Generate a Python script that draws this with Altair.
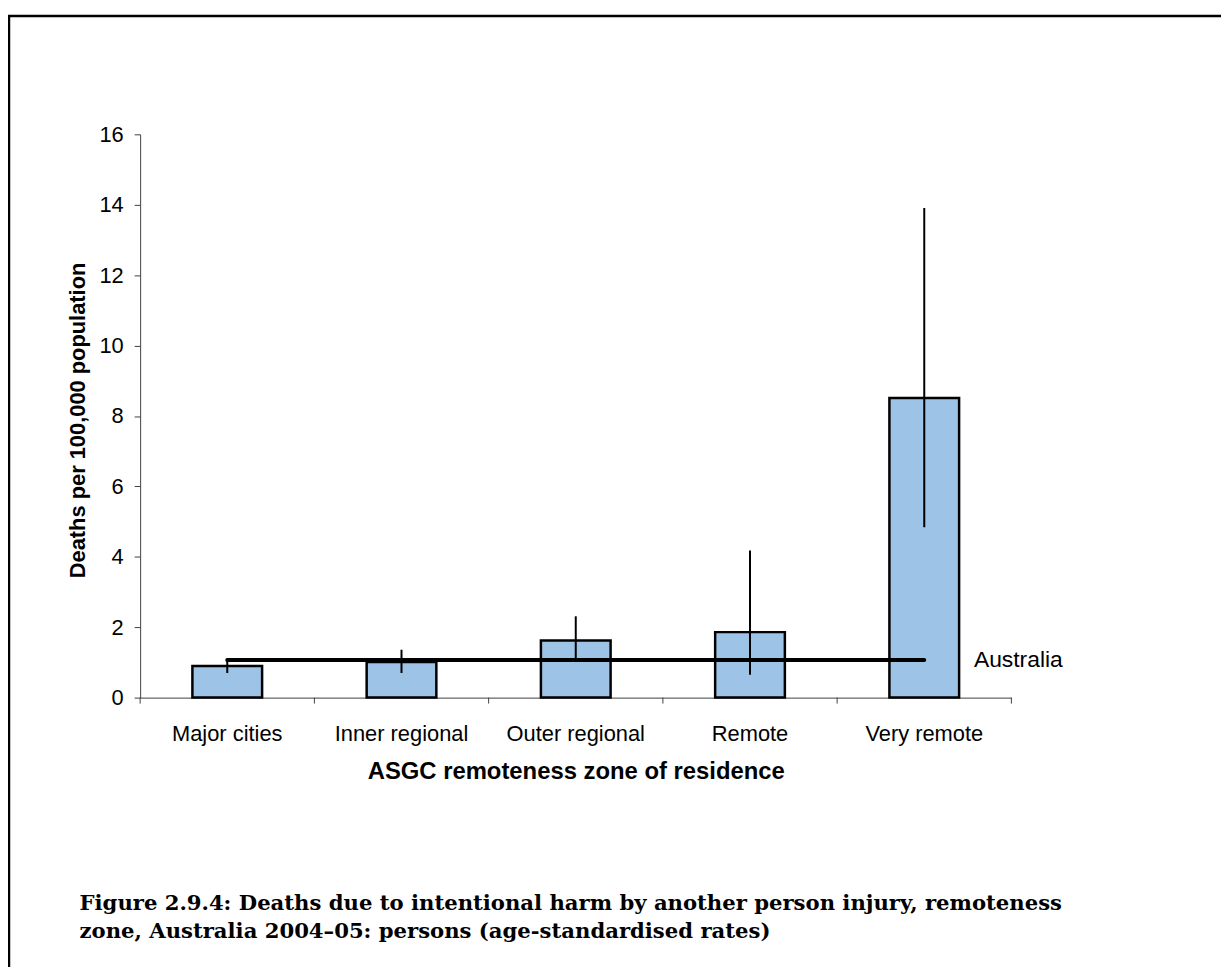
import altair as alt
import pandas as pd

categories = ["Major cities", "Inner regional", "Outer regional", "Remote", "Very remote"]
rates = [0.90, 1.01, 1.62, 1.86, 8.51]
ci_low = [0.70, 0.70, 1.10, 0.65, 4.84]
ci_high = [1.10, 1.36, 2.31, 4.18, 13.91]
australia_rate = 1.07
australia_label = "Australia"
y_ticks = [0, 2, 4, 6, 8, 10, 12, 14, 16]
caption_line1 = "Figure 2.9.4: Deaths due to intentional harm by another person injury, remoteness"
caption_line2 = "zone, Australia 2004\u201305: persons (age-standardised rates)"

W, H = 877, 567
SANS = "Liberation Sans"
XT = "ASGC remoteness zone of residence"
YT = "Deaths per 100,000 population"

df = pd.DataFrame({"category": categories, "rate": rates, "lo": ci_low, "hi": ci_high})
aus = pd.DataFrame({"category": [categories[0]], "end": [categories[-1]],
                    "rate": [australia_rate], "label": [australia_label]})

xscale = alt.Scale(domain=categories, paddingInner=0, paddingOuter=0)
yscale = alt.Scale(domain=[0, 16], nice=False)

xaxis = alt.Axis(title=XT, labelAngle=0, ticks=False, tickSize=0, labelPadding=36,
                 labelBaseline="middle", labelFont=SANS, labelFontSize=22, labelColor="black",
                 titleFont=SANS, titleFontSize=24, titleFontWeight="bold", titleColor="black",
                 titleX=W / 2, titleY=74, titleBaseline="middle", titleAlign="center",
                 domainColor="#404040", domainWidth=1)
yaxis = alt.Axis(title=YT, values=y_ticks, grid=False, tickSize=6, tickColor="#404040",
                 labelPadding=11, labelFont=SANS, labelFontSize=22, labelColor="black",
                 titleFont=SANS, titleFontSize=22, titleFontWeight="bold", titleColor="black",
                 titleAngle=270, titleX=-63, titleY=H / 2 + 4, titleBaseline="middle",
                 titleAlign="center", domainColor="#404040", domainWidth=1)

bars = alt.Chart(df).mark_bar(width=alt.RelativeBandSize(0.4), fill="#9dc3e6",
                              stroke="black", strokeWidth=2.5).encode(
    x=alt.X("category:N", scale=xscale, axis=xaxis, sort=categories),
    y=alt.Y("rate:Q", scale=yscale, axis=yaxis),
)

errs = alt.Chart(df).mark_rule(color="black", strokeWidth=2).encode(
    x=alt.X("category:N", scale=xscale, title=XT, sort=categories),
    y=alt.Y("lo:Q", scale=yscale, title=YT),
    y2="hi:Q",
)

aus_line = alt.Chart(aus).mark_rule(color="black", strokeWidth=4, strokeCap="round").encode(
    x=alt.X("category:N", scale=xscale, title=XT, sort=categories),
    x2="end:N",
    y=alt.Y("rate:Q", scale=yscale, title=YT),
)

aus_text = alt.Chart(aus).mark_text(align="left", baseline="middle", dx=50,
                                    font=SANS, fontSize=23, color="black").encode(
    x=alt.X("end:N", scale=xscale, title=XT, sort=categories),
    y=alt.Y("rate:Q", scale=yscale, title=YT),
    text="label:N",
)

xticks = alt.Chart(df).mark_rule(color="#404040", strokeWidth=1).encode(
    x=alt.X("category:N", scale=xscale, bandPosition=0, title=XT, sort=categories),
    y=alt.value(H),
    y2=alt.value(H + 6),
)
end_tick = alt.Chart(df.head(1)).mark_rule(color="#404040", strokeWidth=1).encode(
    x=alt.value(W), y=alt.value(H), y2=alt.value(H + 6),
)

cap_style = dict(align="left", baseline="middle", font="DejaVu Serif",
                 fontSize=21.3, fontWeight="bold", color="black")
cap1 = alt.Chart(pd.DataFrame({"line": [caption_line1]})).mark_text(**cap_style).encode(
    x=alt.value(-61), y=alt.value(775), text="line:N")
cap2 = alt.Chart(pd.DataFrame({"line": [caption_line2]})).mark_text(**cap_style).encode(
    x=alt.value(-61), y=alt.value(803), text="line:N")

frame = alt.Chart(df.head(1)).mark_rect(filled=False, stroke="black", strokeWidth=2.5).encode(
    x=alt.value(-132), x2=alt.value(2000), y=alt.value(-119), y2=alt.value(2000),
)

chart = alt.layer(frame, bars, errs, aus_line, aus_text, xticks, end_tick, cap1, cap2).properties(
    width=W, height=H,
    autosize=alt.AutoSizeParams(type="none"),
    padding={"left": 133, "top": 124, "right": 211, "bottom": 268},
    background="white",
).configure_view(stroke=None)

chart.save("out.html", embed_options={"renderer": "svg", "actions": False})
